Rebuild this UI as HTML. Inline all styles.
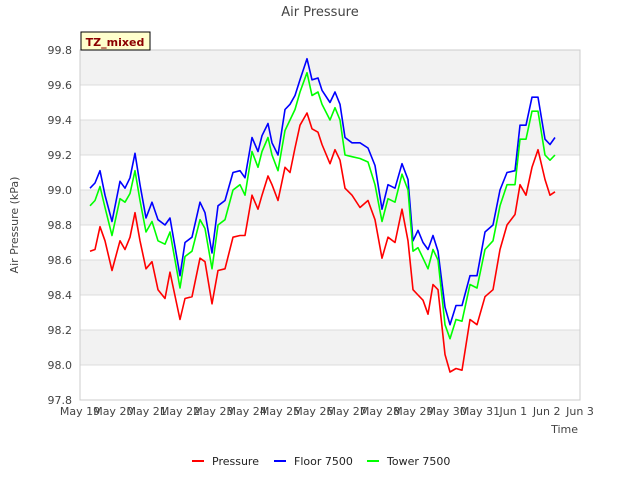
<!DOCTYPE html>
<html><head><meta charset="utf-8"><style>
body{margin:0;background:#fff;}
svg{font-family:"DejaVu Sans","Liberation Sans",sans-serif;}
</style></head><body>
<svg id="chart" width="640" height="480" viewBox="0 0 640 480" xmlns="http://www.w3.org/2000/svg">
<rect width="640" height="480" fill="#fff"/>
<g id="bands"></g>
<g id="grid"></g>
<rect x="80" y="50" width="500" height="350" fill="none" stroke="#ccc"/>
<g id="yticks"></g>
<g id="xticks"></g>
<g id="series"></g>
<text x="320" y="16" text-anchor="middle" font-size="13" fill="#444">Air Pressure</text>
<text transform="translate(18,225) rotate(-90)" text-anchor="middle" font-size="11" fill="#444">Air Pressure (kPa)</text>
<text x="578" y="433" text-anchor="end" font-size="11" fill="#444">Time</text>
<g>
<rect x="81" y="32" width="69" height="18" fill="#ffffcc" stroke="#000"/>
<text x="115" y="46" text-anchor="middle" font-size="11" font-weight="bold" fill="#8b0000">TZ_mixed</text>
</g>
<g font-size="11" fill="#222">
<g><line x1="192" y1="461" x2="204" y2="461" stroke="#f00" stroke-width="2"/><text x="212" y="465">Pressure</text></g>
<g><line x1="274" y1="461" x2="286" y2="461" stroke="#00f" stroke-width="2"/><text x="294" y="465">Floor 7500</text></g>
<g><line x1="367" y1="461" x2="379" y2="461" stroke="#0f0" stroke-width="2"/><text x="387" y="465">Tower 7500</text></g>
</g>
</svg>
<script>
const days=[0.3,0.45,0.6,0.75,0.96,1.2,1.35,1.5,1.65,1.8,1.98,2.16,2.34,2.55,2.7,3.0,3.15,3.36,3.6,3.75,3.96,4.14,4.35,4.59,4.8,4.95,5.16,5.34,5.46,5.64,5.76,5.94,6.15,6.3,6.45,6.6,6.81,6.96,7.14,7.26,7.5,7.65,7.8,7.95,8.16,8.4,8.64,8.85,9.06,9.24,9.45,9.66,9.84,9.99,10.14,10.29,10.44,10.59,10.74,10.95,11.1,11.28,11.46,11.7,11.91,12.15,12.39,12.6,12.81,13.05,13.2,13.38,13.56,13.74,13.95,14.1,14.25];
const pressure=[98.65,98.66,98.79,98.71,98.54,98.71,98.66,98.73,98.87,98.71,98.55,98.59,98.43,98.38,98.53,98.26,98.38,98.39,98.61,98.59,98.35,98.54,98.55,98.73,98.74,98.74,98.97,98.89,98.97,99.08,99.03,98.94,99.13,99.10,99.24,99.37,99.44,99.35,99.33,99.26,99.15,99.23,99.17,99.01,98.97,98.90,98.94,98.83,98.61,98.73,98.70,98.89,98.71,98.43,98.40,98.37,98.29,98.46,98.43,98.06,97.96,97.98,97.97,98.26,98.23,98.39,98.43,98.66,98.80,98.86,99.03,98.97,99.13,99.23,99.06,98.97,98.99];
const floor7500=[99.01,99.04,99.11,98.97,98.82,99.05,99.01,99.07,99.21,99.03,98.84,98.93,98.83,98.80,98.84,98.51,98.70,98.73,98.93,98.87,98.64,98.91,98.94,99.10,99.11,99.07,99.30,99.22,99.31,99.38,99.27,99.20,99.46,99.49,99.54,99.63,99.75,99.63,99.64,99.57,99.50,99.56,99.49,99.30,99.27,99.27,99.24,99.14,98.89,99.03,99.01,99.15,99.06,98.71,98.77,98.70,98.66,98.74,98.65,98.33,98.23,98.34,98.34,98.51,98.51,98.76,98.80,99.00,99.10,99.11,99.37,99.37,99.53,99.53,99.29,99.26,99.30];
const tower7500=[98.91,98.94,99.02,98.90,98.74,98.95,98.93,98.98,99.11,98.94,98.76,98.82,98.71,98.69,98.76,98.44,98.62,98.65,98.83,98.78,98.55,98.80,98.83,99.00,99.03,98.97,99.22,99.13,99.22,99.30,99.20,99.11,99.34,99.40,99.46,99.56,99.67,99.54,99.56,99.49,99.40,99.47,99.40,99.20,99.19,99.18,99.16,99.03,98.82,98.95,98.93,99.09,99.00,98.65,98.67,98.61,98.55,98.66,98.60,98.23,98.15,98.26,98.25,98.46,98.44,98.66,98.71,98.91,99.03,99.03,99.29,99.29,99.45,99.45,99.20,99.17,99.20];
const yTicks=[97.8,98.0,98.2,98.4,98.6,98.8,99.0,99.2,99.4,99.6,99.8];
const xTickLabels=["May 19","May 20","May 21","May 22","May 23","May 24","May 25","May 26","May 27","May 28","May 29","May 30","May 31","Jun 1","Jun 2","Jun 3"];

const NS="http://www.w3.org/2000/svg";
const X0=80,X1=580,Y0=400,Y1=50;
function xs(d){return X0+(d/15)*(X1-X0);}
function ys(v){return Y0-(v-97.8)/2.0*(Y0-Y1);}
function mk(tag,attrs,parent){const e=document.createElementNS(NS,tag);for(const k in attrs)e.setAttribute(k,attrs[k]);parent.appendChild(e);return e;}
const bands=document.getElementById('bands'),grid=document.getElementById('grid'),yt=document.getElementById('yticks'),xt=document.getElementById('xticks'),ser=document.getElementById('series');
for(let i=0;i<yTicks.length-1;i++){
  if(i%2===1){
    const r=mk('rect',{x:X0,y:ys(yTicks[i+1]),width:X1-X0,height:ys(yTicks[i])-ys(yTicks[i+1]),fill:'#f2f2f2'},bands);
    
    
  }
}
yTicks.forEach(v=>{
  const l=mk('line',{x1:X0,x2:X1,y1:ys(v),y2:ys(v),stroke:'#dcdcdc','stroke-width':1},grid);
  
  
  const t=mk('text',{x:X0-8,y:ys(v)+4,'text-anchor':'end','font-size':11,fill:'#444'},yt);
  
  
  t.textContent=v.toFixed(1);
});
xTickLabels.forEach((s,i)=>{
  const t=mk('text',{x:xs(i),y:415,'text-anchor':'middle','font-size':11,fill:'#444'},xt);
  
  
  t.textContent=s;
});
function line(vals,color,name){
  const p=mk('path',{d:vals.map((v,i)=>(i?'L':'M')+xs(days[i]).toFixed(1)+','+ys(v).toFixed(1)).join(''),fill:'none',stroke:color,'stroke-width':1.6,'stroke-linejoin':'round'},ser);
  
  
}
line(pressure,'#f00','pressure-line');
line(floor7500,'#00f','floor-7500-line');
line(tower7500,'#0f0','tower-7500-line');
</script>
</body></html>
